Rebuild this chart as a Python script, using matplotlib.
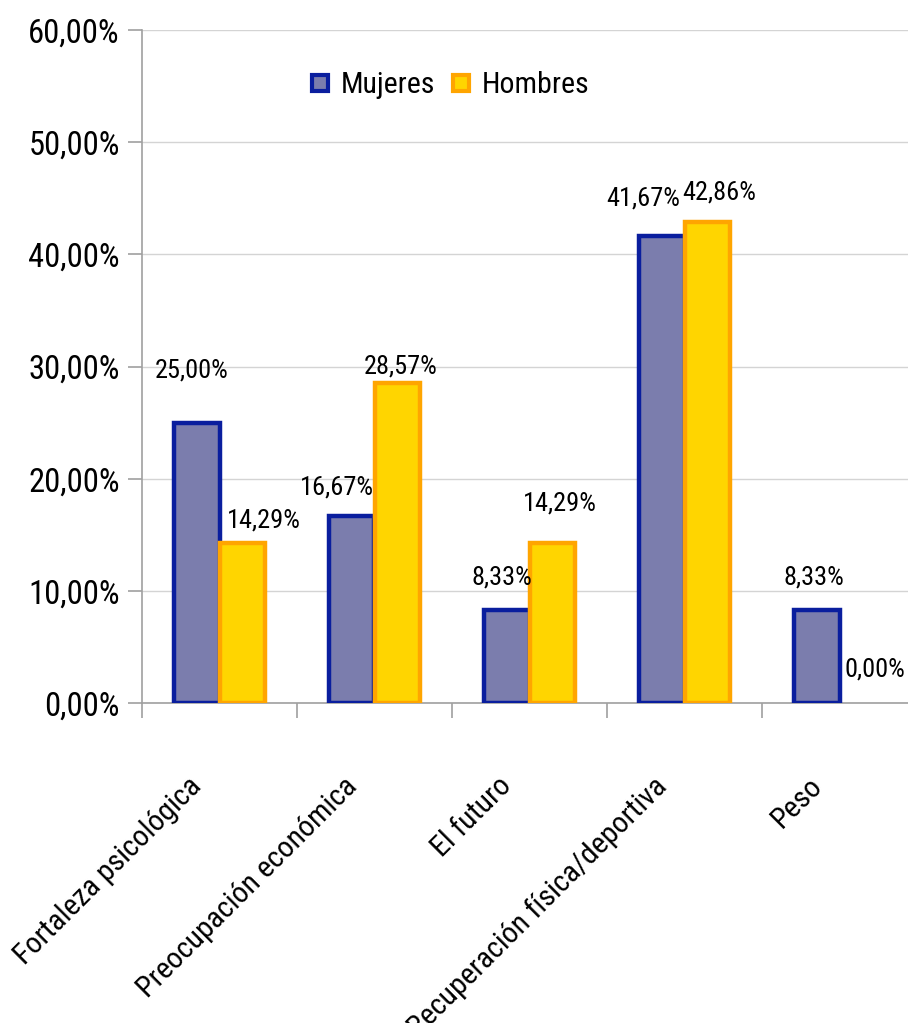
import matplotlib
matplotlib.use("Agg")
import matplotlib.pyplot as plt
from matplotlib.lines import Line2D
from matplotlib.ticker import FuncFormatter, MultipleLocator
from matplotlib import font_manager as fm
import matplotlib.transforms as mtransforms
import numpy as np

categories = ["Fortaleza psicológica", "Preocupación económica", "El futuro",
              "Recuperación física/deportiva", "Peso"]
mujeres = [25.00, 16.67, 8.33, 41.67, 8.33]
hombres = [14.29, 28.57, 14.29, 42.86, 0.00]
series_names = ["Mujeres", "Hombres"]

available = {f.name for f in fm.fontManager.ttflist}
narrow = None
for cand in ["Liberation Sans Narrow", "Arial Narrow", "Roboto Condensed",
             "Open Sans Condensed", "Noto Sans Condensed"]:
    if cand in available:
        narrow = cand
        break
if narrow:
    plt.rcParams['font.family'] = [narrow, 'Liberation Sans', 'DejaVu Sans']
    k = 1.0
else:
    plt.rcParams['font.family'] = ['Liberation Sans', 'DejaVu Sans']
    k = 0.89

fig = plt.figure(figsize=(9.08, 10.23), dpi=100)
ax = fig.add_axes([142/908, (1023-703)/1023, 775/908, (703-30)/1023])

x = np.arange(len(categories))
w = 0.295
m_face, m_edge = "#7B7DAD", "#0A1E9E"
h_face, h_edge = "#FFD500", "#FFA500"

ax.bar(x - w/2, mujeres, w, color=m_face, edgecolor=m_edge,
       linewidth=[3.2 if v > 0 else 0 for v in mujeres], zorder=3)
ax.bar(x + w/2, hombres, w, color=h_face, edgecolor=h_edge,
       linewidth=[3.2 if v > 0 else 0 for v in hombres], zorder=3)

ax.set_xlim(-0.5, 4.5)
ax.set_ylim(0, 60)
ax.yaxis.set_major_locator(MultipleLocator(10))
ax.yaxis.set_major_formatter(FuncFormatter(lambda v, p: f"{v:.2f}%".replace(".", ",")))
ax.grid(axis='y', color="#D4D4D4", linewidth=1.0, zorder=0)
ax.set_axisbelow(True)

for s in ["top", "right"]:
    ax.spines[s].set_visible(False)
for s in ["left", "bottom"]:
    ax.spines[s].set_color("#A0A0A0")
    ax.spines[s].set_linewidth(1.2)

# category boundary ticks
ax.set_xticks(np.arange(-0.5, 4.6, 1.0))
ax.set_xticklabels([])
ax.tick_params(axis='x', length=11, color="#A0A0A0", width=1.2, direction='out')
ax.tick_params(axis='y', length=10, color="#A0A0A0", width=1.2, labelsize=23.5*k, pad=6)

# rotated category labels, anchored at their right end below each category
lab_off = mtransforms.ScaledTranslation(-22/100, -79/100, fig.dpi_scale_trans)
for xi, name in zip(x, categories):
    ax.text(xi, 0, name, transform=ax.get_xaxis_transform() + lab_off,
            rotation=45, ha='right', va='center', rotation_mode='anchor',
            fontsize=21.5*k, clip_on=False)

# data labels (pixel offsets from bar top-centre)
m_off = [(-5, 52), (-15, 29), (-5, 32), (-18, 37), (-3, 32)]
h_off = [(22, 22), (3, 16), (8, 39), (12, 30), (13, 33)]
for i in range(len(categories)):
    for vals, offs, dx0 in ((mujeres, m_off, -w/2), (hombres, h_off, w/2)):
        ax.annotate(f"{vals[i]:.2f}%".replace(".", ","), (x[i] + dx0, vals[i]),
                    xytext=(offs[i][0]*0.72, offs[i][1]*0.72), textcoords='offset points',
                    ha='center', va='center', fontsize=19*k, zorder=5)

handles = [Line2D([], [], marker='s', linestyle='none', markersize=12,
                  markerfacecolor=m_face, markeredgecolor=m_edge, markeredgewidth=3),
           Line2D([], [], marker='s', linestyle='none', markersize=12,
                  markerfacecolor=h_face, markeredgecolor=h_edge, markeredgewidth=3)]
ax.legend(handles, series_names, loc='center', bbox_to_anchor=(447/908, 1-85/1023),
          bbox_transform=fig.transFigure, ncol=2, frameon=False, fontsize=21.5*k,
          handletextpad=0.2, columnspacing=0.35, handlelength=1.0)

fig.savefig("out.png", dpi=100)
